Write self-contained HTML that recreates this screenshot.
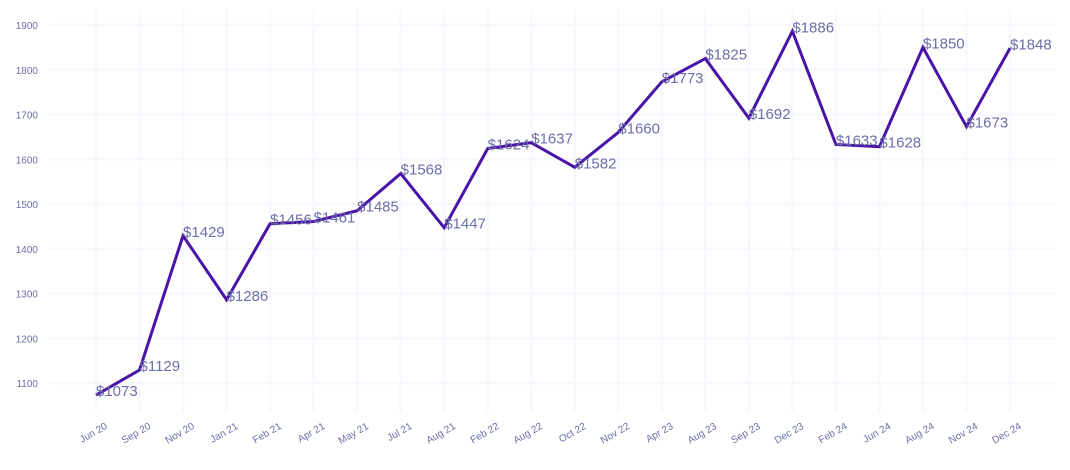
<!DOCTYPE html>
<html><head><meta charset="utf-8"><style>
body{margin:0;background:#fff;font-family:"Liberation Sans",Arial,sans-serif}
</style></head><body>
<svg id="chart" width="1070" height="465" xmlns="http://www.w3.org/2000/svg"></svg>
<script>
const categories=["Jun 20","Sep 20","Nov 20","Jan 21","Feb 21","Apr 21","May 21","Jul 21","Aug 21","Feb 22","Aug 22","Oct 22","Nov 22","Apr 23","Aug 23","Sep 23","Dec 23","Feb 24","Jun 24","Aug 24","Nov 24","Dec 24"];
const values=[1073,1129,1429,1286,1456,1461,1485,1568,1447,1624,1637,1582,1660,1773,1825,1692,1886,1633,1628,1850,1673,1848];
const yTicks=[1100,1200,1300,1400,1500,1600,1700,1800,1900];
const svg=document.getElementById('chart');
const NS='http://www.w3.org/2000/svg';
const x0=96,x1=1010;
const xs=i=>x0+(x1-x0)*i/(categories.length-1);
const ys=v=>383-(v-1100)*(383-25)/800;
function mk(t,a,p){const e=document.createElementNS(NS,t);for(const k in a)e.setAttribute(k,a[k]);(p||svg).appendChild(e);return e;}
const grid=mk('g',{});


yTicks.forEach(v=>{
  const l=mk('line',{x1:50,x2:1055,y1:ys(v),y2:ys(v),stroke:'#f7f7fe','stroke-width':2.5},grid);
  
  
  const t=mk('text',{x:38,y:ys(v)+4,'text-anchor':'end','font-size':10,fill:'#6b6fa8'});
  t.textContent=v;
  
  
});
categories.forEach((c,i)=>{
  const l=mk('line',{x1:xs(i),x2:xs(i),y1:10,y2:412,stroke:'#f7f7fe','stroke-width':2.5},grid);
  
  
  const t=mk('text',{x:xs(i)+12,y:428,'text-anchor':'end','font-size':10,fill:'#6b6fa8',transform:`rotate(-30 ${xs(i)+12} 428)`});
  t.textContent=c;
  
  
});
const pts=values.map((v,i)=>xs(i)+','+ys(v)).join(' ');
const line=mk('polyline',{points:pts,fill:'none',stroke:'#4a14a8','stroke-width':3,'stroke-linejoin':'miter'});


values.forEach((v,i)=>{
  const t=mk('text',{x:xs(i),y:ys(v)+1,'font-size':15,fill:'#6b6fa8'});
  t.textContent='$'+v;
  
  
});
</script>
</body></html>
